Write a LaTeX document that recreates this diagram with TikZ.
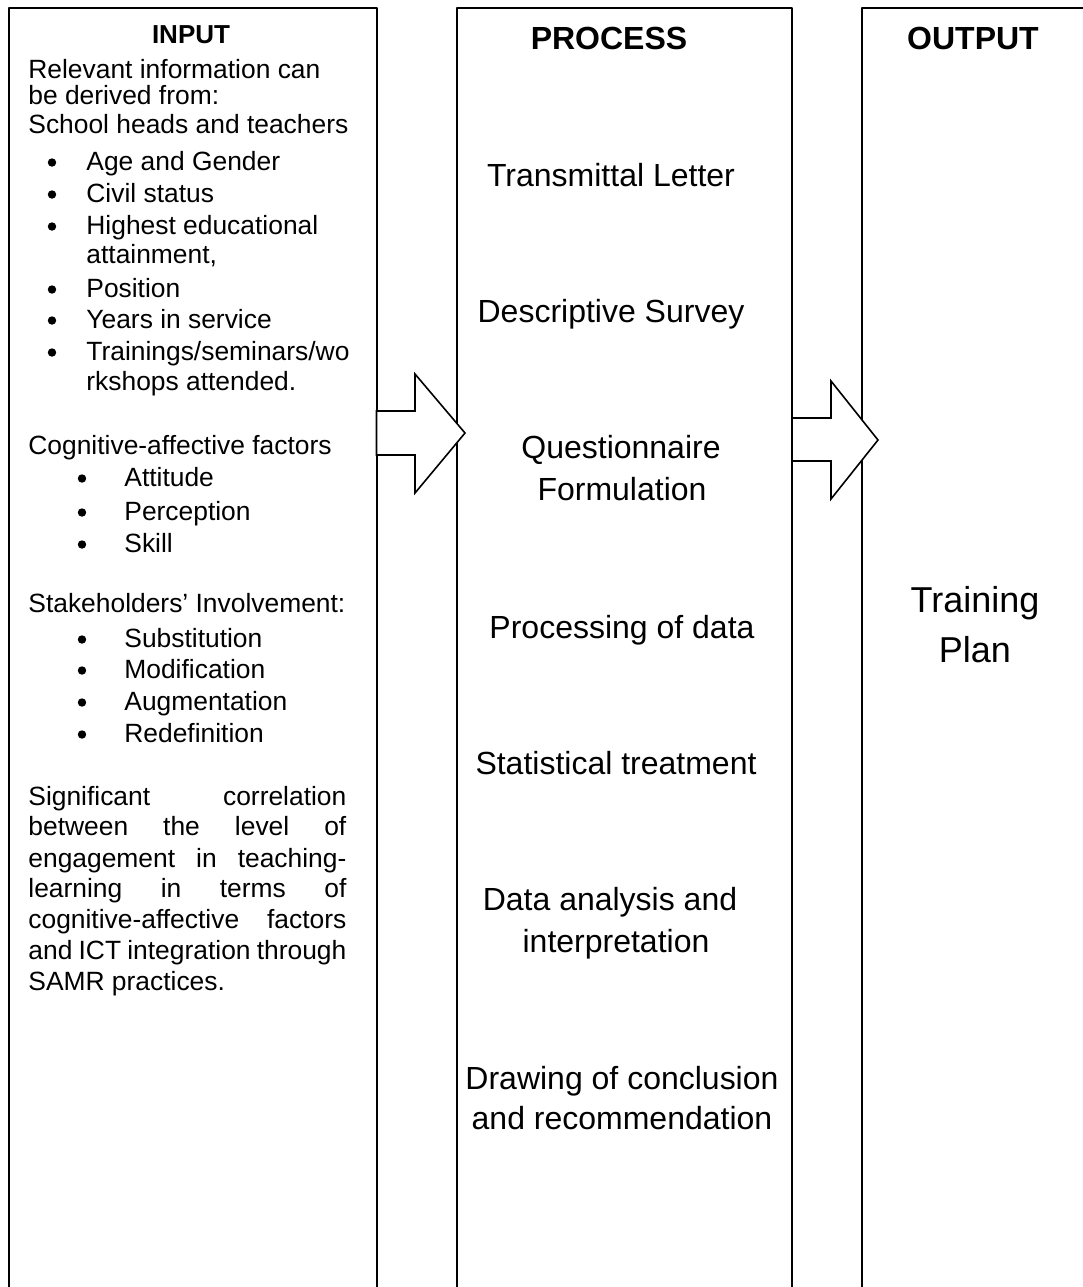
\documentclass[tikz,border=0pt]{standalone}
\usepackage{fontspec}
\setmainfont{Liberation Sans}
\tikzset{
  frame/.style={line width=1pt},
  blockarrow/.style={draw,fill=white,line width=0.8pt,line join=miter},
  intext/.style={anchor=base west,inner sep=0pt,font=\fontsize{13.2}{15.5}\selectfont},
  dot/.style={circle,fill,inner sep=0pt,minimum size=4.2pt},
  heading/.style={anchor=base,inner sep=0pt,font=\fontsize{#1}{#1}\selectfont\bfseries},
  ptext/.style={anchor=base,inner sep=0pt,font=\fontsize{16}{21}\selectfont},
  otext/.style={anchor=base,inner sep=0pt,font=\fontsize{18}{25}\selectfont}
}
\begin{document}
\begin{tikzpicture}[x=0.5pt,y=-0.5pt,line join=round,line cap=butt]
  \useasboundingbox (0,0) rectangle (1083,1287);
  \clip (0,0) rectangle (1083,1287);

  % the three columns, open at the bottom
  \draw[frame] (9,1300) -- (9,8) -- (376.5,8) -- (376.5,1300);
  \draw[frame] (457,1300) -- (457,8) -- (792,8) -- (792,1300);
  \draw[frame] (862,1300) -- (862,8) -- (1100,8);

  % block arrows
  \draw[blockarrow] (376.5,411) -- (415,411) -- (415,374) -- (465,433)
    -- (415,493) -- (415,455) -- (376.5,455) -- cycle;
  \draw[blockarrow] (792,418) -- (831,418) -- (831,381) -- (878,440)
    -- (831,499) -- (831,461) -- (792,461) -- cycle;

  % INPUT
  \node[heading=13] (ititle) at (191,43) {INPUT};
  \foreach \y/\lbl [count=\i] in {78/Relevant information can, 104/be derived from:,
      133/School heads and teachers, 454/Cognitive-affective factors,
      612/{Stakeholders’ Involvement:}}
    \node[intext] (head\i) at (28,\y) {\lbl};
  \foreach \y/\lbl [count=\i] in {170/Age and Gender, 202/Civil status,
      234/Highest educational, 297/Position, 328/Years in service,
      360/{Trainings/seminars/wo}}
    {\node[dot] (dotA\i) at (52,\y-7.5) {};
     \node[intext] (itemA\i) at (86,\y) {\lbl};}
  \node[intext] (wrapA1) at (86,263) {attainment,};
  \node[intext] (wrapA2) at (86,390) {rkshops attended.};
  \foreach \y/\lbl [count=\i] in {486/Attitude, 520/Perception, 552/Skill,
      647/Substitution, 678/Modification, 710/Augmentation, 742/Redefinition}
    {\node[dot] (dotB\i) at (82,\y-7.5) {};
     \node[intext] (itemB\i) at (124,\y) {\lbl};}
  \foreach \y/\lbl [count=\i] in {805/Significant correlation, 835/between the level of,
      867/engagement in teaching-, 897/learning in terms of,
      928/cognitive-affective factors, 959/and ICT integration through}
    \node[intext] (para\i) at (28,\y) {\makebox[159pt][s]{\lbl}};
  \node[intext] (para7) at (28,990) {SAMR practices.};

  % PROCESS
  \node[heading=16] (ptitle) at (609,49) {PROCESS};
  \node[ptext] (p1) at (611,186) {Transmittal Letter};
  \node[ptext] (p2) at (611,322) {Descriptive Survey};
  \node[ptext] (p3a) at (621,458) {Questionnaire};
  \node[ptext] (p3b) at (622,500) {Formulation};
  \node[ptext] (p4) at (622,638) {Processing of data};
  \node[ptext] (p5) at (616,774) {Statistical treatment};
  \node[ptext] (p6a) at (610,910) {Data analysis and};
  \node[ptext] (p6b) at (616,952) {interpretation};
  \node[ptext] (p7a) at (622,1089) {Drawing of conclusion};
  \node[ptext] (p7b) at (622,1129) {and recommendation};

  % OUTPUT
  \node[heading=16] (otitle) at (973,49) {OUTPUT};
  \node[otext] (o1) at (975,612) {Training};
  \node[otext] (o2) at (975,662) {Plan};
\end{tikzpicture}
\end{document}
